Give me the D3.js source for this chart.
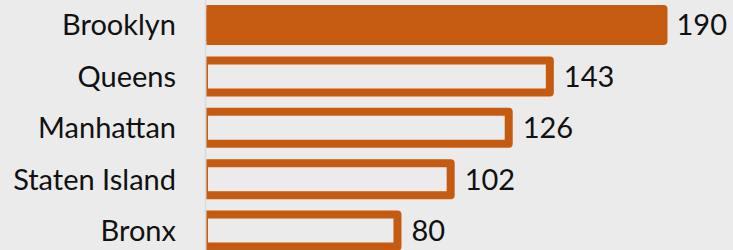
<!DOCTYPE html>
<html>
<head>
<meta charset="utf-8">
<script src="https://cdn.jsdelivr.net/npm/d3@7"></script>
<style>
  html, body { margin: 0; padding: 0; background: #ebebeb; }
  svg { display: block; }
  text { font-family: Lato, "Noto Sans", sans-serif; fill: #111; }
</style>
</head>
<body>
<svg id="chart" width="733" height="250"></svg>
<script>
// boroughs, top to bottom
const boroughs = ['Brooklyn', 'Queens', 'Manhattan', 'Staten Island', 'Bronx']
const counts = [190, 143, 126, 102, 80]
// only the first bar is filled
const highlight = ['Brooklyn']

const width = 733
const height = 250
const orange = '#c55a11'
const bg = '#ebebeb'
const axisX = 205.5
const fontSize = 29

const svg = d3.select('#chart')

const data = boroughs.map((b, i) => ({label: b, value: counts[i]}))

// 比例尺
const x = d3.scaleLinear().domain([0, 190]).range([204, 663.5])
const y = d3.scaleBand().domain(boroughs).range([-0.7, 256.3]).padding(0.377).paddingOuter(0.1885)

// 裁剪区，左边被轴线挡住
svg.append('clipPath').attr('id', 'plot-clip')
  .append('rect')
  .attr('x', axisX + 0.8)
  .attr('y', -10)
  .attr('width', width)
  .attr('height', height + 20)

const bars = svg.append('g').attr('clip-path', 'url(#plot-clip)')

bars.selectAll('rect.bar')
  .data(data)
  .join('rect')
  .attr('class', 'bar')
  .attr('x', x(0))
  .attr('y', (d) => y(d.label))
  .attr('width', (d) => x(d.value) - x(0))
  .attr('height', y.bandwidth())
  .attr('fill', (d) => (highlight.includes(d.label) ? orange : bg))
  .attr('stroke', orange)
  .attr('stroke-width', 8)
  .attr('stroke-linejoin', 'round')

// 轴线
svg.append('line')
  .attr('x1', axisX).attr('x2', axisX)
  .attr('y1', 0).attr('y2', height)
  .attr('stroke', '#dadada')
  .attr('stroke-width', 1.5)

// 类别标签
svg.append('g')
  .selectAll('text')
  .data(data)
  .join('text')
  .attr('x', 176)
  .attr('y', (d) => y(d.label) + y.bandwidth() / 2)
  .attr('dy', '0.36em')
  .attr('text-anchor', 'end')
  .attr('font-size', fontSize)
  .text((d) => d.label)

// 数值标签
svg.append('g')
  .selectAll('text')
  .data(data)
  .join('text')
  .attr('x', (d) => x(d.value) + 14)
  .attr('y', (d) => y(d.label) + y.bandwidth() / 2)
  .attr('dy', '0.36em')
  .attr('font-size', fontSize)
  .text((d) => d.value)
  .each(function () {
    // 最右边的标签不出画布
    const len = this.getComputedTextLength()
    const cur = +this.getAttribute('x')
    if (cur + len > width - 6) this.setAttribute('x', Math.max(width - 6 - len, cur - 5))
  })
</script>
</body>
</html>
